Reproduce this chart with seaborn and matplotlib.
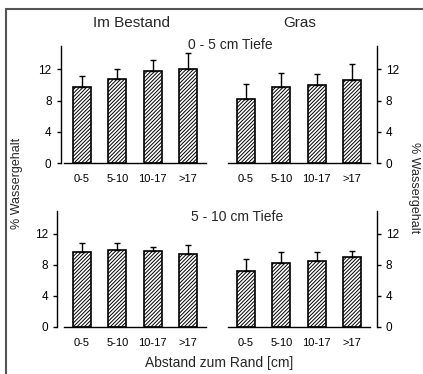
import numpy as np
import pandas as pd
import seaborn as sns
import matplotlib.pyplot as plt
from matplotlib.lines import Line2D

# distance classes from the field edge
abstand = ["0-5", "5-10", "10-17", ">17"]

# mean water content (%) and upper error (SD) per panel
bestand_0_5 = [9.7, 10.8, 11.8, 12.0]
bestand_0_5_err = [1.4, 1.2, 1.4, 2.1]
gras_0_5 = [8.2, 9.8, 10.0, 10.6]
gras_0_5_err = [1.9, 1.8, 1.4, 2.1]
bestand_5_10 = [9.7, 9.9, 9.8, 9.4]
bestand_5_10_err = [1.1, 0.9, 0.5, 1.1]
gras_5_10 = [7.2, 8.3, 8.5, 9.0]
gras_5_10_err = [1.6, 1.3, 1.1, 0.8]

yticks = [0, 4, 8, 12]

sns.set_theme(style="white")
plt.rcParams["font.family"] = ["Liberation Sans", "DejaVu Sans"]
plt.rcParams["hatch.linewidth"] = 0.7

W, H = 423, 374
fig = plt.figure(figsize=(W / 100, H / 100), dpi=100)


def px_axes(x0, x1, y_top, y_bot):
    return fig.add_axes([x0 / W, 1 - y_bot / H, (x1 - x0) / W, (y_bot - y_top) / H])


def panel(ax, means, err, side, offset):
    df = pd.DataFrame({"abstand": abstand, "wert": means})
    sns.barplot(data=df, x="abstand", y="wert", ax=ax, width=0.5,
                color="white", edgecolor="black", linewidth=1.2,
                hatch="/////////", errorbar=None, saturation=1)
    ax.errorbar(range(len(means)), means, yerr=[np.zeros(len(err)), err],
                fmt="none", ecolor="black", elinewidth=1.0, capsize=2.5,
                capthick=1.0, zorder=1)
    ax.set_xlim(-0.5, 3.5)
    ax.set_ylim(0, 15)
    ax.set_xlabel("")
    ax.set_ylabel("")
    ax.set_yticks(yticks)
    for s in ["top", "left", "right"]:
        ax.spines[s].set_visible(False)
    ax.spines["bottom"].set_color("black")
    ax.spines["bottom"].set_linewidth(1.0)
    sp = ax.spines[side]
    sp.set_visible(True)
    sp.set_color("black")
    sp.set_linewidth(1.0)
    sp.set_position(("outward", offset))
    sp.set_bounds(0, 15)
    if side == "right":
        ax.yaxis.tick_right()
    else:
        ax.yaxis.tick_left()
    ax.tick_params(axis="y", direction="out", length=3, width=1, pad=3.5,
                   labelsize=8.5, colors="black")
    ax.tick_params(axis="x", direction="out", length=2, width=1, pad=6,
                   labelsize=8, colors="black")
    ax.patch.set_alpha(0)


ax_tl = px_axes(64, 206, 46, 163)
ax_tr = px_axes(228, 370, 46, 163)
ax_bl = px_axes(64, 206, 210.7, 326.7)
ax_br = px_axes(228, 370, 210.7, 326.7)

panel(ax_tl, bestand_0_5, bestand_0_5_err, "left", 2.5)
panel(ax_tr, gras_0_5, gras_0_5_err, "right", 5)
panel(ax_bl, bestand_5_10, bestand_5_10_err, "left", 5)
panel(ax_br, gras_5_10, gras_5_10_err, "right", 5)

# texts
fig.text(131 / W, 1 - 23 / H, "Im Bestand", ha="center", va="center", fontsize=11)
fig.text(300 / W, 1 - 23 / H, "Gras", ha="center", va="center", fontsize=11)
fig.text(230 / W, 1 - 45 / H, "0 - 5 cm Tiefe", ha="center", va="center", fontsize=10)
fig.text(237 / W, 1 - 217 / H, "5 - 10 cm Tiefe", ha="center", va="center", fontsize=10)
fig.text(17 / W, 1 - 183 / H, "% Wassergehalt", ha="center", va="center",
         rotation=90, fontsize=9)
fig.text(414 / W, 1 - 188 / H, "% Wassergehalt", ha="center", va="center",
         rotation=-90, fontsize=9)
fig.text(219 / W, 1 - 363 / H, "Abstand zum Rand [cm]", ha="center", va="center",
         fontsize=10)

# outer frame (left and top edges visible)
fig.add_artist(Line2D([5.5 / W, 5.5 / W], [0, 1 - 8.5 / H], transform=fig.transFigure,
                      color="#555555", linewidth=1.5))
fig.add_artist(Line2D([5.5 / W, 1], [1 - 8.5 / H, 1 - 8.5 / H], transform=fig.transFigure,
                      color="#555555", linewidth=1.5))

fig.savefig("out.png", dpi=100)
